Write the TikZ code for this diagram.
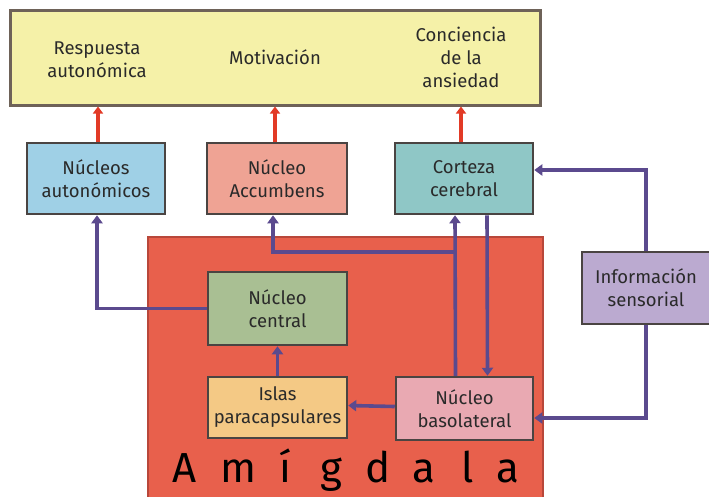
\documentclass[tikz,border=0pt]{standalone}
\usepackage{fontspec}
\setmainfont{Fira Sans}
\usetikzlibrary{arrows.meta,calc}
\definecolor{ybox}{HTML}{F5F1A8}
\definecolor{yborder}{HTML}{6E6258}
\definecolor{amy}{HTML}{E8604C}
\definecolor{amyb}{HTML}{B8473A}
\definecolor{bluef}{HTML}{9FD0E6}
\definecolor{salm}{HTML}{EFA394}
\definecolor{teal}{HTML}{8FC7C6}
\definecolor{greenf}{HTML}{A9BF93}
\definecolor{orangef}{HTML}{F4C985}
\definecolor{pinkf}{HTML}{E9A9B2}
\definecolor{lav}{HTML}{BBAAD0}
\definecolor{pl}{HTML}{5B4A8E}
\definecolor{rl}{HTML}{E23A26}
\definecolor{bd}{HTML}{4A4442}
\definecolor{txt}{HTML}{2A2A2A}
\tikzset{
  boxst/.style={draw=bd, line width=2.5pt, minimum width=138pt, inner sep=0pt, align=center, text=txt, font=\fontsize{18.5}{23}\selectfont},
  lbl/.style={align=center, text=txt, font=\fontsize{18.5}{23}\selectfont},
  pline/.style={draw=pl, line width=3.6pt, -{Triangle[length=8pt,width=11pt]}},
  rline/.style={draw=rl, line width=3.6pt, -{Triangle[length=7pt,width=10pt]}},
  letter/.style={text=black, font=\fontsize{42}{42}\selectfont, anchor=base}
}
\begin{document}
\begin{tikzpicture}[x=1pt,y=-1pt]
\useasboundingbox (0,0) rectangle (709,496);
% top box
\node[draw=yborder, fill=ybox, line width=3pt, minimum width=530pt, minimum height=95pt, inner sep=0pt] (top) at (275,57.5) {};
\node[lbl] (resp) at (97,60) {Respuesta\\autonómica};
\node[lbl] (moti) at (275,57) {Motivación};
\node[lbl] (conc) at (461,57) {Conciencia\\de la\\ansiedad};
% amygdala
\node[draw=amyb, fill=amy, line width=1.5pt, minimum width=395pt, minimum height=265pt, inner sep=0pt] (amig) at (345.5,369.5) {};
% second row
\node[boxst, fill=bluef, minimum height=71pt] (auto) at (96,178.5) {Núcleos\\autonómicos};
\node[boxst, fill=salm, minimum height=71pt, minimum width=140pt] (acc) at (277,178.5) {Núcleo\\Accumbens};
\node[boxst, fill=teal, minimum height=71pt] (cort) at (464,178.5) {Corteza\\cerebral};
% amygdala inner
\node[boxst, fill=greenf, minimum height=73pt, minimum width=139pt] (cent) at (277.5,308.5) {Núcleo\\central};
\node[boxst, fill=orangef, minimum height=61pt, minimum width=139pt] (isla) at (277.5,407.5) {Islas\\paracapsulares};
\node[boxst, fill=pinkf, minimum height=63pt, minimum width=137pt] (baso) at (464.5,408.5) {Núcleo\\basolateral};
\node[boxst, fill=lav, minimum height=72pt, minimum width=128pt] (info) at (646,288) {Información\\sensorial};
% Amígdala letters
\node[letter] (l1) at (185,482) {A};
\node[letter] (l2) at (238,482) {m};
\node[letter] (l3) at (285,482) {í};
\node[letter] (l4) at (331,482) {g};
\node[letter] (l5) at (378,482) {d};
\node[letter] (l6) at (424,482) {a};
\node[letter] (l7) at (468,482) {l};
\node[letter] (l8) at (508,482) {a};
% red arrows
\draw[rline] ([xshift=2pt]auto.north) -- ([xshift=2pt]auto.north |- top.south);
\draw[rline] ([xshift=-2pt]acc.north) -- ([xshift=-2pt]acc.north |- top.south);
\draw[rline] ([xshift=-3pt]cort.north) -- ([xshift=-3pt]cort.north |- top.south);
% purple connectors
\draw[pline] (cent.west) -| ([xshift=1pt]auto.south);
\draw[pline] ([xshift=-9pt]baso.north) -- ([xshift=-9pt]cort.south);
\coordinate (br) at ([xshift=-9pt]baso.north |- 0,252);
\draw[pline] (br) -| ([xshift=-4pt]acc.south);
\draw[pline] ([xshift=23pt]cort.south) -- ([xshift=23pt]baso.north);
\draw[pline] (isla.north) -- (cent.south);
\draw[pline] ([yshift=2pt]baso.west) -- ([yshift=2pt]isla.east);
\coordinate (c1) at (info.north |- 0,170);
\draw[pline] (info.north) -- (c1) -- (c1 -| cort.east);
\coordinate (c2) at (info.south |- 0,418);
\draw[pline] (info.south) -- (c2) -- (c2 -| baso.east);
\end{tikzpicture}
\end{document}
